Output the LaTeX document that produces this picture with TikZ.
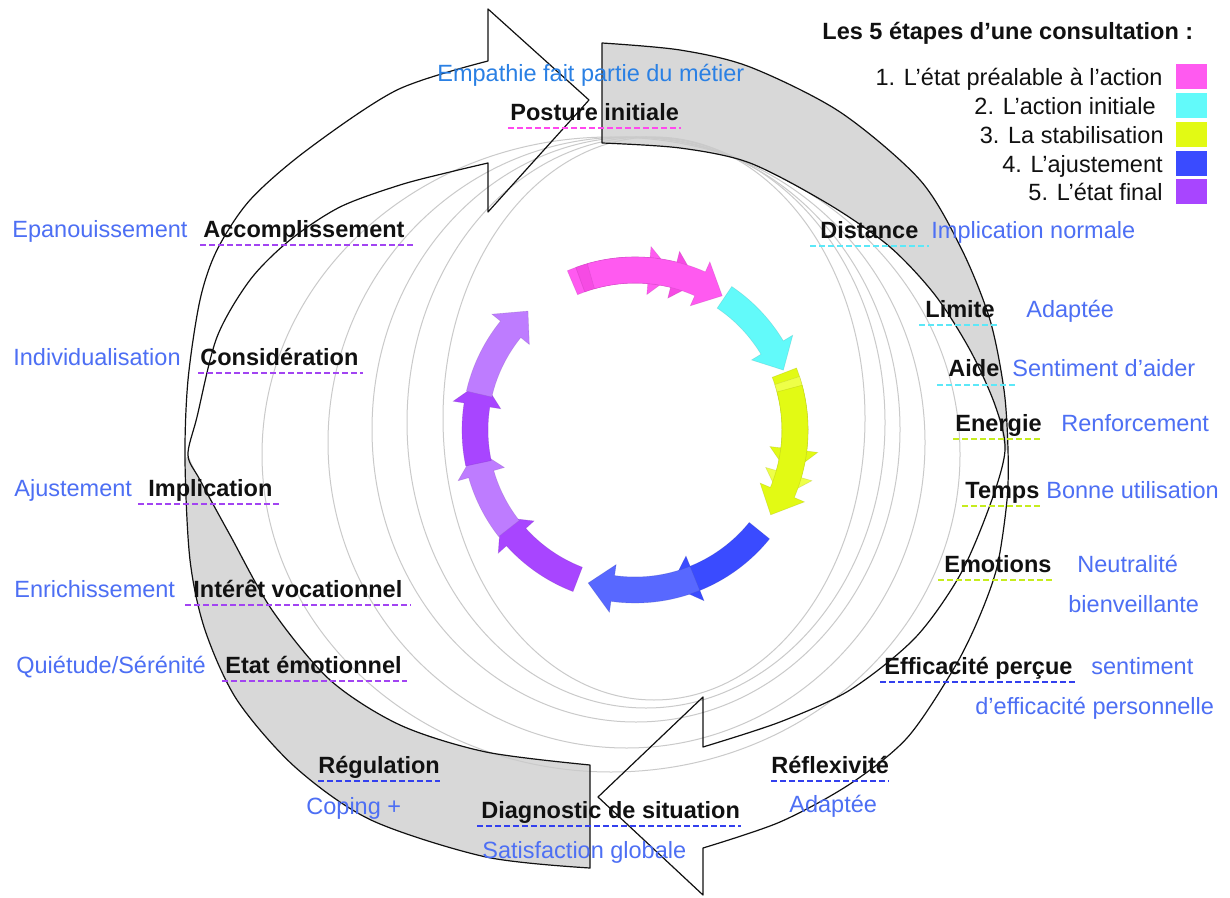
\documentclass[tikz,border=0pt]{standalone}
\usepackage{fontspec}
\setmainfont{Liberation Sans}
\usepackage{tikz}
\usetikzlibrary{calc}
\definecolor{ink}{HTML}{111111}
\definecolor{hintblue}{HTML}{4D6FF4}
\definecolor{hintsky}{HTML}{2A80E4}
\definecolor{backface}{HTML}{D8D8D8}
\definecolor{ghost}{HTML}{CACACA}
\definecolor{stepA}{HTML}{FF5AF0}
\definecolor{stepAb}{HTML}{F64BE4}
\definecolor{stepB}{HTML}{62FAFA}
\definecolor{stepC}{HTML}{E2FA14}
\definecolor{stepCb}{HTML}{EEFF48}
\definecolor{stepD}{HTML}{3A4BFF}
\definecolor{stepDb}{HTML}{5868FF}
\definecolor{stepE}{HTML}{A845FF}
\definecolor{stepEb}{HTML}{BE7CFF}
\definecolor{ulA}{HTML}{FF48EE}
\definecolor{ulB}{HTML}{5CE8F8}
\definecolor{ulC}{HTML}{C6EC1E}
\definecolor{ulD}{HTML}{3340EE}
\definecolor{ulE}{HTML}{A244F2}
\tikzset{
  tag/.style       = {font=\fontsize{11.75}{14}\selectfont\bfseries, text=ink, inner sep=0pt, anchor=base west},
  hint/.style      = {font=\fontsize{11.75}{14}\selectfont, text=hintblue, inner sep=0pt, anchor=base west},
  legend/.style    = {font=\fontsize{11.75}{14}\selectfont, text=ink, inner sep=0pt, anchor=base east},
  swatch/.style    = {rectangle, inner sep=0pt, minimum width=15.5pt, minimum height=12.5pt},
  uline/.style     = {line width=1pt, dash pattern=on 3pt off 1.5pt},
  rim/.style       = {draw=ink, line width=0.6pt, line join=round},
  back/.style      = {fill=backface},
  ghostline/.style = {draw=ghost, line width=0.5pt},
}

\begin{document}
\begin{tikzpicture}[x=0.5pt, y=-0.5pt]
  \useasboundingbox[fill=white] (0,0) rectangle (1230,898);

  % back faces of the two big arrows
  \fill[back] plot[smooth] coordinates {(602,43) (680,50) (750,67) (840,112) (920,180) (962,250) (990,320) (1004,390) (1008,450)}
    -- plot[smooth] coordinates {(1005,450) (995,405) (970,350) (935,295) (890,247) (830,205) (750,163) (680,148) (602,143)} -- cycle;
  \fill[back] plot[smooth] coordinates {(590,868) (486,857) (371,820) (295,767) (237,700) (205,630) (190,560) (185,460)}
    -- plot[smooth] coordinates {(188,455) (200,480) (230,535) (272,610) (330,680) (400,725) (486,752) (590,765)} -- cycle;

  % thin rings
  \foreach \cx/\cy/\rx/\ry in {611/454.5/174.5pt/158.75pt, 626.5/442.5/149.25pt/152.75pt, 636/429.5/132pt/146.25pt,
                               646/422.5/119.5pt/142.75pt, 654/418.5/105.5pt/140.75pt}
    \draw[ghostline] (\cx,\cy) ellipse [x radius=\rx, y radius=\ry];

  % outlines
  \draw[rim] plot[smooth] coordinates {(602,43) (680,50) (750,67) (840,112) (920,180) (962,250) (990,320) (1004,390) (1008,450)
      (1007,500) (997,567) (978,620) (953,670) (907,738) (850,784) (780,822) (703,848)}
    -- (703,895) -- (598,797) -- (703,697)
    -- plot[smooth] coordinates {(703,747) (780,722) (850,690) (915,638) (960,575) (990,505) (1005,450) (995,405) (970,350)
      (935,295) (890,247) (830,205) (750,163) (680,148) (602,143)} -- cycle;
  \draw[rim] plot[smooth] coordinates {(590,868) (486,857) (371,820) (295,767) (237,700) (205,630) (190,560) (185,460)
      (188,380) (200,300) (217,250) (250,200) (307,150) (397,90) (488,61)}
    -- (488,9) -- (589,100) -- (488,212)
    -- plot[smooth] coordinates {(488,163) (450,172) (400,185) (340,207) (290,240) (250,280) (217,337) (197,417) (188,455)
      (200,480) (230,535) (272,610) (330,680) (400,725) (486,752) (590,765)} -- cycle;

  % inner ring of steps
  \foreach \col/\s/\e in {stepA/-113/-76, stepAb/-110/-67, stepA/-106/-57, stepB/-56/-22,
                          stepC/-21/16, stepCb/-18/25, stepC/-15/32, stepD/39/77, stepDb/68/107,
                          stepE/111/147, stepEb/142/173, stepE/168/198, stepEb/193/228} {
    \pgfmathsetmacro\h{\e-9}
    \fill[\col, draw=\col!75!black, draw opacity=0.35, line width=0.3pt]
      plot[domain=\s:\h, samples=24] ({635+173*cos(\x)},{430+173*sin(\x)})
      -- ({635+184*cos(\h)},{430+184*sin(\h)})
      -- ({635+160*cos(\e)},{430+160*sin(\e)})
      -- ({635+136*cos(\h)},{430+136*sin(\h)})
      -- plot[domain=\h:\s, samples=24] ({635+147*cos(\x)},{430+147*sin(\x)}) -- cycle;
  }

  % labels
  \node[tag] (post)  at (510,121) {Posture initiale};
  \node[tag] (dist)  at (820,239) {Distance};
  \node[tag] (lim)   at (925,318) {Limite};
  \node[tag] (aide)  at (948,377) {Aide};
  \node[tag] (ener)  at (955,431) {Energie};
  \node[tag] (temps) at (965,498) {Temps};
  \node[tag] (emo)   at (944,572) {Emotions};
  \node[tag] (effi)  at (884,674) {Efficacité perçue};
  \node[tag] (refl)  at (771,773) {Réflexivité};
  \node[tag] (diag)  at (481,818) {Diagnostic de situation};
  \node[tag] (regu)  at (318,773) {Régulation};
  \node[tag] (etat)  at (225,673) {Etat émotionnel};
  \node[tag] (inter) at (193,597) {Intérêt vocationnel};
  \node[tag] (impl)  at (148,496) {Implication};
  \node[tag] (consi) at (200,365) {Considération};
  \node[tag] (accom) at (203,238) {Accomplissement};

  \foreach \n/\c/\l/\r in {post/ulA/2/2, dist/ulB/10/10, lim/ulB/6/3, aide/ulB/11/16, ener/ulC/2/0,
                           temps/ulC/3/0, emo/ulC/6/3, effi/ulD/4/5, refl/ulD/0/0, diag/ulD/4/1,
                           regu/ulD/0/0, etat/ulE/3/5, inter/ulE/8/8, impl/ulE/10/7, consi/ulE/2/4, accom/ulE/3/8}
    \draw[uline, draw=\c] ($(\n.base west)+(-\l,7.5)$) -- ($(\n.base east)+(\r,7.5)$);

  \node[hint, text=hintsky] (emp) at (437,82) {Empathie fait partie du métier};
  \node[hint] (implnorm) at (931,239)  {Implication normale};
  \node[hint] (adapt)    at (1026,318) {Adaptée};
  \node[hint] (sent)     at (1012,377) {Sentiment d’aider};
  \node[hint] (renf)     at (1061,431) {Renforcement};
  \node[hint] (bonne)    at (1046,498) {Bonne utilisation};
  \node[hint] (neut)     at (1077,572) {Neutralité};
  \node[hint] (bienv)    at (1068,612) {bienveillante};
  \node[hint] (senti)    at (1091,674) {sentiment};
  \node[hint] (deff)     at (975,714)  {d’efficacité personnelle};
  \node[hint] (adaptb)   at (789,812)  {Adaptée};
  \node[hint] (satis)    at (482,858)  {Satisfaction globale};
  \node[hint] (coping)   at (306,814)  {Coping +};
  \node[hint] (quiet)    at (16,673)   {Quiétude/Sérénité};
  \node[hint] (enrich)   at (14,597)   {Enrichissement};
  \node[hint] (ajust)    at (14,496)   {Ajustement};
  \node[hint] (indiv)    at (13,365)   {Individualisation};
  \node[hint] (epan)     at (12,238)   {Epanouissement};

  % legend
  \node[tag] (legtitle) at (822,40) {Les 5 étapes d’une consultation :};
  \foreach \i/\t/\c/\y/\xr in {1/{1. L’état préalable à l’action}/stepA/86/1163, 2/{2. L’action initiale}/stepB/115/1156,
                               3/{3. La stabilisation}/stepC/144/1164, 4/{4. L’ajustement}/stepD/173/1163,
                               5/{5. L’état final}/stepE/201/1163} {
    \node[legend] (leg\i) at (\xr,\y) {\t};
    \node[swatch, fill=\c] (sw\i) at (1191.5,\y-9) {};
  }
\end{tikzpicture}
\end{document}
